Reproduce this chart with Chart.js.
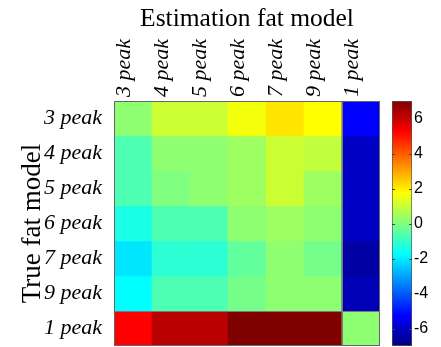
<!DOCTYPE html>
<html>
<head>
<meta charset="utf-8">
<script src="https://cdn.jsdelivr.net/npm/chart.js@4"></script>
<style>
  html, body { margin: 0; padding: 0; background: #fff; overflow: hidden; }
  #wrap { position: relative; width: 441px; height: 347px; }
  canvas { position: absolute; top: 0; }
</style>
</head>
<body>
<div id="wrap">
  <canvas id="heat" width="441" height="347" style="left:0"></canvas>
  <canvas id="cbar" width="61" height="347" style="left:380px"></canvas>
</div>
<script>
// Labels
const estLabels = ['3 peak', '4 peak', '5 peak', '6 peak', '7 peak', '9 peak', '1 peak'];
const trueLabels = ['3 peak', '4 peak', '5 peak', '6 peak', '7 peak', '9 peak', '1 peak'];

// One row per true model, one value per estimation model
const row3 = [0.2, 1.05, 1.05, 1.6, 2.1, 1.75, -5.25];
const row4 = [-0.7, 0.2, 0.2, 0.4, 1.05, 0.9, -6.05];
const row5 = [-0.7, 0.0, 0.2, 0.4, 1.05, 0.4, -6.05];
const row6 = [-1.4, -0.7, -0.7, 0.2, 0.4, 0.2, -6.05];
const row7 = [-2.1, -1.15, -1.15, -0.4, 0.2, -0.15, -6.5];
const row9 = [-1.75, -0.7, -0.7, -0.15, 0.2, 0.2, -6.25];
const row1 = [5.25, 6.2, 6.2, 7.0, 7.0, 7.0, 0.2];
const rows = [row3, row4, row5, row6, row7, row9, row1];

// Colour limits and colorbar ticks
const cmin = -7, cmax = 7;
const cbarTicks = [-6, -4, -2, 0, 2, 4, 6];

const serif = "'Liberation Serif', 'Times New Roman', serif";

function clamp(x) { return Math.max(0, Math.min(1, x)); }

// MATLAB jet colormap
function jet(v) {
    const t = clamp((v - cmin) / (cmax - cmin));
    const r = clamp(1.5 - Math.abs(4 * t - 3));
    const g = clamp(1.5 - Math.abs(4 * t - 2));
    const b = clamp(1.5 - Math.abs(4 * t - 1));
    return `rgb(${Math.round(r * 255)},${Math.round(g * 255)},${Math.round(b * 255)})`;
}

// don't let chart.js reserve room for end labels
function noPad(s) {
    s.paddingTop = 0; s.paddingBottom = 0;
    s.paddingLeft = 0; s.paddingRight = 0;
}

// Frame and the separator lines around the "1 peak" row/column
const framePlugin = {
    id: 'frame',
    afterDatasetsDraw(chart) {
        const { ctx, chartArea: a, scales } = chart;
        const xSep = (scales.x.getPixelForTick(5) + scales.x.getPixelForTick(6)) / 2;
        const ySep = scales.y.getPixelForValue(6);
        ctx.save();
        ctx.strokeStyle = '#7a7a7a';
        ctx.lineWidth = 1;
        ctx.beginPath();
        ctx.moveTo(Math.round(xSep) + 0.5, a.top);
        ctx.lineTo(Math.round(xSep) + 0.5, a.bottom);
        ctx.moveTo(a.left, Math.round(ySep) + 0.5);
        ctx.lineTo(a.right, Math.round(ySep) + 0.5);
        ctx.stroke();
        ctx.strokeStyle = '#666';
        ctx.strokeRect(a.left + 0.5, a.top + 0.5, a.right - a.left - 1, a.bottom - a.top - 1);
        ctx.restore();
    }
};

const heatDatasets = rows.map((vals, i) => ({
    label: trueLabels[i],
    data: estLabels.map(() => [i, i + 1]),
    backgroundColor: vals.map(jet),
    borderWidth: 0,
    grouped: false,
    barPercentage: 1,
    categoryPercentage: 1
}));

new Chart(document.getElementById('heat'), {
    type: 'bar',
    data: { labels: estLabels, datasets: heatDatasets },
    options: {
        responsive: false,
        animation: false,
        layout: { padding: { right: 61, bottom: 1 } },
        plugins: { legend: { display: false }, tooltip: { enabled: false } },
        scales: {
            x: {
                position: 'top',
                grid: { display: false, drawTicks: false },
                border: { display: false },
                ticks: {
                    minRotation: 90, maxRotation: 90, autoSkip: false,
                    padding: 4, labelOffset: 18, color: '#000',
                    font: { family: serif, size: 22, style: 'italic' }
                },
                title: {
                    display: true, text: 'Estimation fat model', color: '#000',
                    font: { family: serif, size: 25.5 }, padding: { top: 4, bottom: 0 }
                },
                afterFit: s => { s.height = 101; noPad(s); }
            },
            y: {
                min: 0, max: 7, reverse: true,
                grid: { display: false, drawTicks: false },
                border: { display: false },
                afterBuildTicks: s => { s.ticks = trueLabels.map((_, i) => ({ value: i + 0.5 })); },
                ticks: {
                    padding: 12, color: '#000', autoSkip: false,
                    font: { family: serif, size: 22, style: 'italic' },
                    callback: v => trueLabels[Math.floor(v)]
                },
                title: {
                    display: true, text: 'True fat model', color: '#000',
                    font: { family: serif, size: 27 }, padding: { top: 17, bottom: 0 }
                },
                afterFit: s => { s.width = 114; noPad(s); }
            }
        }
    },
    plugins: [framePlugin]
});

// Colorbar: one bar from cmin to cmax filled with the jet gradient
function jetGradient(ctx) {
    const a = ctx.chart.chartArea;
    if (!a) return '#888';
    const g = ctx.chart.ctx.createLinearGradient(0, a.bottom, 0, a.top);
    g.addColorStop(0, 'rgb(0,0,128)');
    g.addColorStop(1 / 8, 'rgb(0,0,255)');
    g.addColorStop(3 / 8, 'rgb(0,255,255)');
    g.addColorStop(5 / 8, 'rgb(255,255,0)');
    g.addColorStop(7 / 8, 'rgb(255,0,0)');
    g.addColorStop(1, 'rgb(128,0,0)');
    return g;
}

// small inward tick marks on both sides of the colorbar
const cbarTickPlugin = {
    id: 'cbarTicks',
    afterDatasetsDraw(chart) {
        const { ctx, chartArea: a, scales } = chart;
        ctx.save();
        ctx.strokeStyle = '#444';
        ctx.lineWidth = 1;
        ctx.beginPath();
        cbarTicks.forEach(v => {
            const y = Math.round(scales.y.getPixelForValue(v)) + 0.5;
            ctx.moveTo(a.left, y); ctx.lineTo(a.left + 3, y);
            ctx.moveTo(a.right - 3, y); ctx.lineTo(a.right, y);
        });
        ctx.stroke();
        ctx.restore();
    }
};

new Chart(document.getElementById('cbar'), {
    type: 'bar',
    data: {
        labels: [''],
        datasets: [{
            data: [[cmin, cmax]],
            backgroundColor: jetGradient,
            borderColor: '#555',
            borderWidth: 1,
            borderSkipped: false,
            barPercentage: 1,
            categoryPercentage: 1
        }]
    },
    options: {
        responsive: false,
        animation: false,
        layout: { padding: { left: 12, top: 101, bottom: 1 } },
        plugins: { legend: { display: false }, tooltip: { enabled: false } },
        scales: {
            x: { display: false },
            y: {
                position: 'right',
                min: cmin, max: cmax,
                afterBuildTicks: s => { s.ticks = cbarTicks.map(v => ({ value: v })); },
                grid: { display: false, drawTicks: false },
                border: { display: false },
                ticks: {
                    padding: 2, color: '#000',
                    font: { family: "'Liberation Sans', Arial, sans-serif", size: 16 }
                },
                afterFit: s => { s.width = 29; noPad(s); }
            }
        }
    },
    plugins: [cbarTickPlugin]
});
</script>
</body>
</html>
